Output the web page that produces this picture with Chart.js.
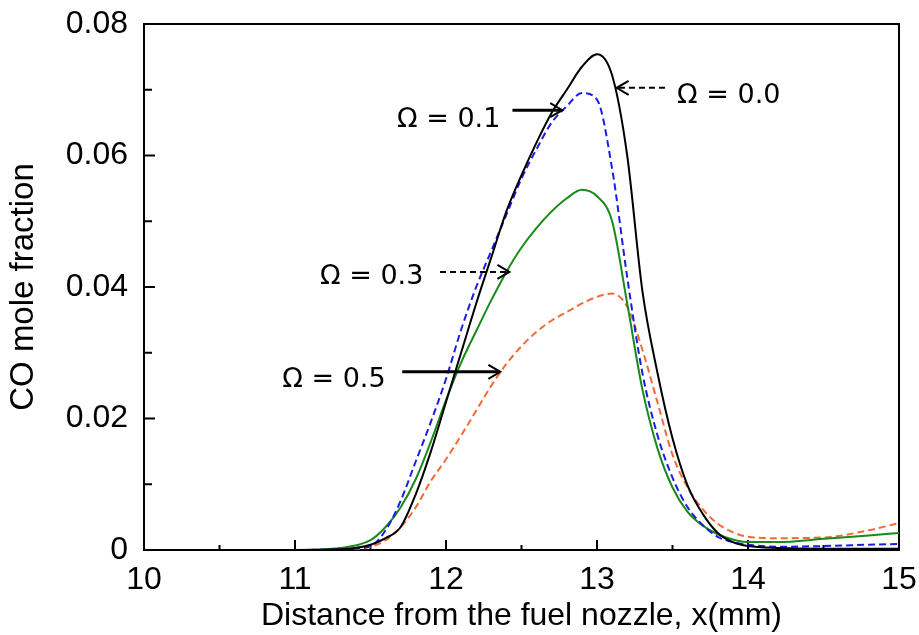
<!DOCTYPE html>
<html>
<head>
<meta charset="utf-8">
<script src="https://cdn.jsdelivr.net/npm/chart.js@4.4.1/dist/chart.umd.min.js"></script>
<style>
  html, body { margin: 0; padding: 0; background: #fff; }
  #wrap { width: 919px; height: 635px; }
</style>
</head>
<body>
<div id="wrap"><canvas id="grafico" width="919" height="635"></canvas></div>
<script>
// Dados
const distancia = [10, 11, 11.3, 11.5, 11.6, 11.7, 11.8, 11.9, 12.0, 12.1, 12.2, 12.3, 12.4, 12.5, 12.6, 12.7, 12.8, 12.9, 13.0, 13.1, 13.2, 13.3, 13.4, 13.5, 13.6, 13.7, 13.8, 13.9, 14.0, 14.2, 14.5, 14.8, 15];

const omega00 = [0, 0, 0.0001, 0.0008, 0.0018, 0.0035, 0.0085, 0.015, 0.0225, 0.030, 0.0375, 0.0445, 0.0515, 0.057, 0.062, 0.0665, 0.070, 0.0735, 0.0754, 0.0722, 0.060, 0.0395, 0.027, 0.017, 0.0098, 0.0055, 0.0026, 0.0012, 0.0006, 0.0003, 0.0002, 0.0002, 0.0002];
const omega01 = [0, 0, 0.0001, 0.0006, 0.003, 0.0075, 0.0135, 0.0195, 0.026, 0.0335, 0.040, 0.0455, 0.051, 0.0565, 0.061, 0.065, 0.0675, 0.0695, 0.0685, 0.058, 0.0415, 0.027, 0.0175, 0.011, 0.0065, 0.0038, 0.002, 0.0012, 0.0008, 0.0005, 0.0006, 0.0008, 0.0009];
const omega03 = [0, 0, 0.0003, 0.0015, 0.0035, 0.0065, 0.0108, 0.0165, 0.0228, 0.0285, 0.0333, 0.038, 0.0423, 0.046, 0.049, 0.0515, 0.0535, 0.0548, 0.0538, 0.050, 0.0375, 0.0245, 0.0155, 0.0095, 0.0058, 0.0037, 0.0024, 0.0016, 0.0012, 0.0012, 0.0017, 0.0022, 0.0026];
const omega05 = [0, 0, 0, 0.0005, 0.0015, 0.0035, 0.0065, 0.0105, 0.0138, 0.0174, 0.0212, 0.025, 0.0283, 0.031, 0.0332, 0.0349, 0.0362, 0.0375, 0.0385, 0.039, 0.037, 0.0305, 0.0225, 0.0145, 0.0095, 0.0062, 0.004, 0.0027, 0.002, 0.0018, 0.0019, 0.003, 0.0041];

const ticksX = [10, 11, 12, 13, 14, 15];
const ticksY = [0, 0.02, 0.04, 0.06, 0.08];

// Anotações (rótulos e setas), em coordenadas dos dados
const rotulos = ["Ω = 0.0", "Ω = 0.1", "Ω = 0.3", "Ω = 0.5"];
const rotuloX = [13.53, 12.36, 11.85, 11.6];
const rotuloY = [0.069, 0.0654, 0.0415, 0.0259];
const rotuloAlinha = ["left", "right", "right", "right"];
const setaInicioX = [13.45, 12.44, 11.96, 11.71];
const setaFimX = [13.13, 12.77, 12.42, 12.36];
const setaY = [0.0703, 0.0669, 0.0423, 0.0271];
const setaTracejada = [true, false, true, false];

function pontos(valores) {
  return distancia.map((x, i) => ({ x: x, y: valores[i] }));
}

// Moldura e marcas de escala para dentro
const molduraPlugin = {
  id: "moldura",
  beforeDatasetsDraw(chart) {
    const { ctx, chartArea: a, scales } = chart;
    ctx.save();
    ctx.strokeStyle = "#000";
    ctx.lineWidth = 2;
    ctx.strokeRect(a.left, a.top, a.right - a.left, a.bottom - a.top);
    for (let v = 10; v <= 15.001; v += 0.5) {
      const px = scales.x.getPixelForValue(v);
      const major = Math.abs(v - Math.round(v)) < 1e-6;
      ctx.beginPath();
      ctx.moveTo(px, a.bottom);
      ctx.lineTo(px, a.bottom - (major ? 10 : 5));
      ctx.stroke();
    }
    for (let k = 0; k <= 8; k++) {
      const py = scales.y.getPixelForValue(k * 0.01);
      ctx.beginPath();
      ctx.moveTo(a.left, py);
      ctx.lineTo(a.left + (k % 2 === 0 ? 11 : 8), py);
      ctx.stroke();
    }
    ctx.restore();
  },
  afterDatasetsDraw(chart) {
    const { ctx, scales } = chart;
    ctx.save();
    ctx.strokeStyle = "#000";
    ctx.fillStyle = "#000";
    for (let i = 0; i < rotulos.length; i++) {
      const x0 = scales.x.getPixelForValue(setaInicioX[i]);
      const x1 = scales.x.getPixelForValue(setaFimX[i]);
      const y = scales.y.getPixelForValue(setaY[i]);
      const dir = Math.sign(x1 - x0);
      ctx.lineWidth = setaTracejada[i] ? 2 : 3;
      ctx.setLineDash(setaTracejada[i] ? [6, 4] : []);
      ctx.beginPath();
      ctx.moveTo(x0, y);
      ctx.lineTo(x1 - dir * 2, y);
      ctx.stroke();
      ctx.setLineDash([]);
      ctx.lineWidth = 2;
      ctx.beginPath();
      ctx.moveTo(x1 - dir * 12, y - 7);
      ctx.lineTo(x1, y);
      ctx.lineTo(x1 - dir * 12, y + 7);
      ctx.stroke();

      ctx.font = "27px 'DejaVu Sans'";
      ctx.textAlign = rotuloAlinha[i];
      ctx.textBaseline = "middle";
      ctx.fillText(rotulos[i], scales.x.getPixelForValue(rotuloX[i]), scales.y.getPixelForValue(rotuloY[i]));
    }
    ctx.restore();
  }
};

const ctx = document.getElementById("grafico").getContext("2d");

new Chart(ctx, {
  type: "line",
  data: {
    datasets: [
      { label: "Ω = 0.0", data: pontos(omega00), borderColor: "#000000", borderWidth: 2 },
      { label: "Ω = 0.1", data: pontos(omega01), borderColor: "#1c1ce8", borderWidth: 2, borderDash: [7, 4] },
      { label: "Ω = 0.3", data: pontos(omega03), borderColor: "#178a17", borderWidth: 2 },
      { label: "Ω = 0.5", data: pontos(omega05), borderColor: "#f46a36", borderWidth: 2, borderDash: [7, 4] }
    ]
  },
  options: {
    responsive: false,
    animation: false,
    events: [],
    layout: { padding: { top: 24, right: 20, left: 0, bottom: 0 } },
    elements: {
      point: { radius: 0 },
      line: { cubicInterpolationMode: "monotone", fill: false }
    },
    plugins: {
      legend: { display: false },
      tooltip: { enabled: false }
    },
    scales: {
      x: {
        type: "linear",
        min: 10,
        max: 15,
        afterBuildTicks: (s) => { s.ticks = ticksX.map(v => ({ value: v })); },
        afterFit: (s) => { s.height = 85; s.paddingLeft = 0; s.paddingRight = 0; },
        grid: { display: false, drawTicks: false },
        border: { display: false },
        ticks: {
          color: "#000",
          padding: 11,
          maxRotation: 0,
          font: { family: "'Liberation Sans', Arial", size: 32 },
          callback: (v) => String(v)
        },
        title: {
          display: true,
          text: "Distance from the fuel nozzle, x(mm)",
          color: "#000",
          padding: { top: 0, bottom: 0 },
          font: { family: "'Liberation Sans', Arial", size: 32 }
        }
      },
      y: {
        min: 0,
        max: 0.08,
        afterBuildTicks: (s) => { s.ticks = ticksY.map(v => ({ value: v })); },
        afterFit: (s) => { s.width = 144; s.paddingTop = 0; s.paddingBottom = 0; },
        grid: { display: false, drawTicks: false },
        border: { display: false },
        ticks: {
          color: "#000",
          padding: 16,
          font: { family: "'Liberation Sans', Arial", size: 32 },
          callback: (v) => (v === 0 ? "0" : v.toFixed(2))
        },
        title: {
          display: true,
          text: "CO mole fraction",
          color: "#000",
          padding: { top: 4, bottom: 0 },
          font: { family: "'Liberation Sans', Arial", size: 33 }
        }
      }
    }
  },
  plugins: [molduraPlugin]
});
</script>
</body>
</html>
